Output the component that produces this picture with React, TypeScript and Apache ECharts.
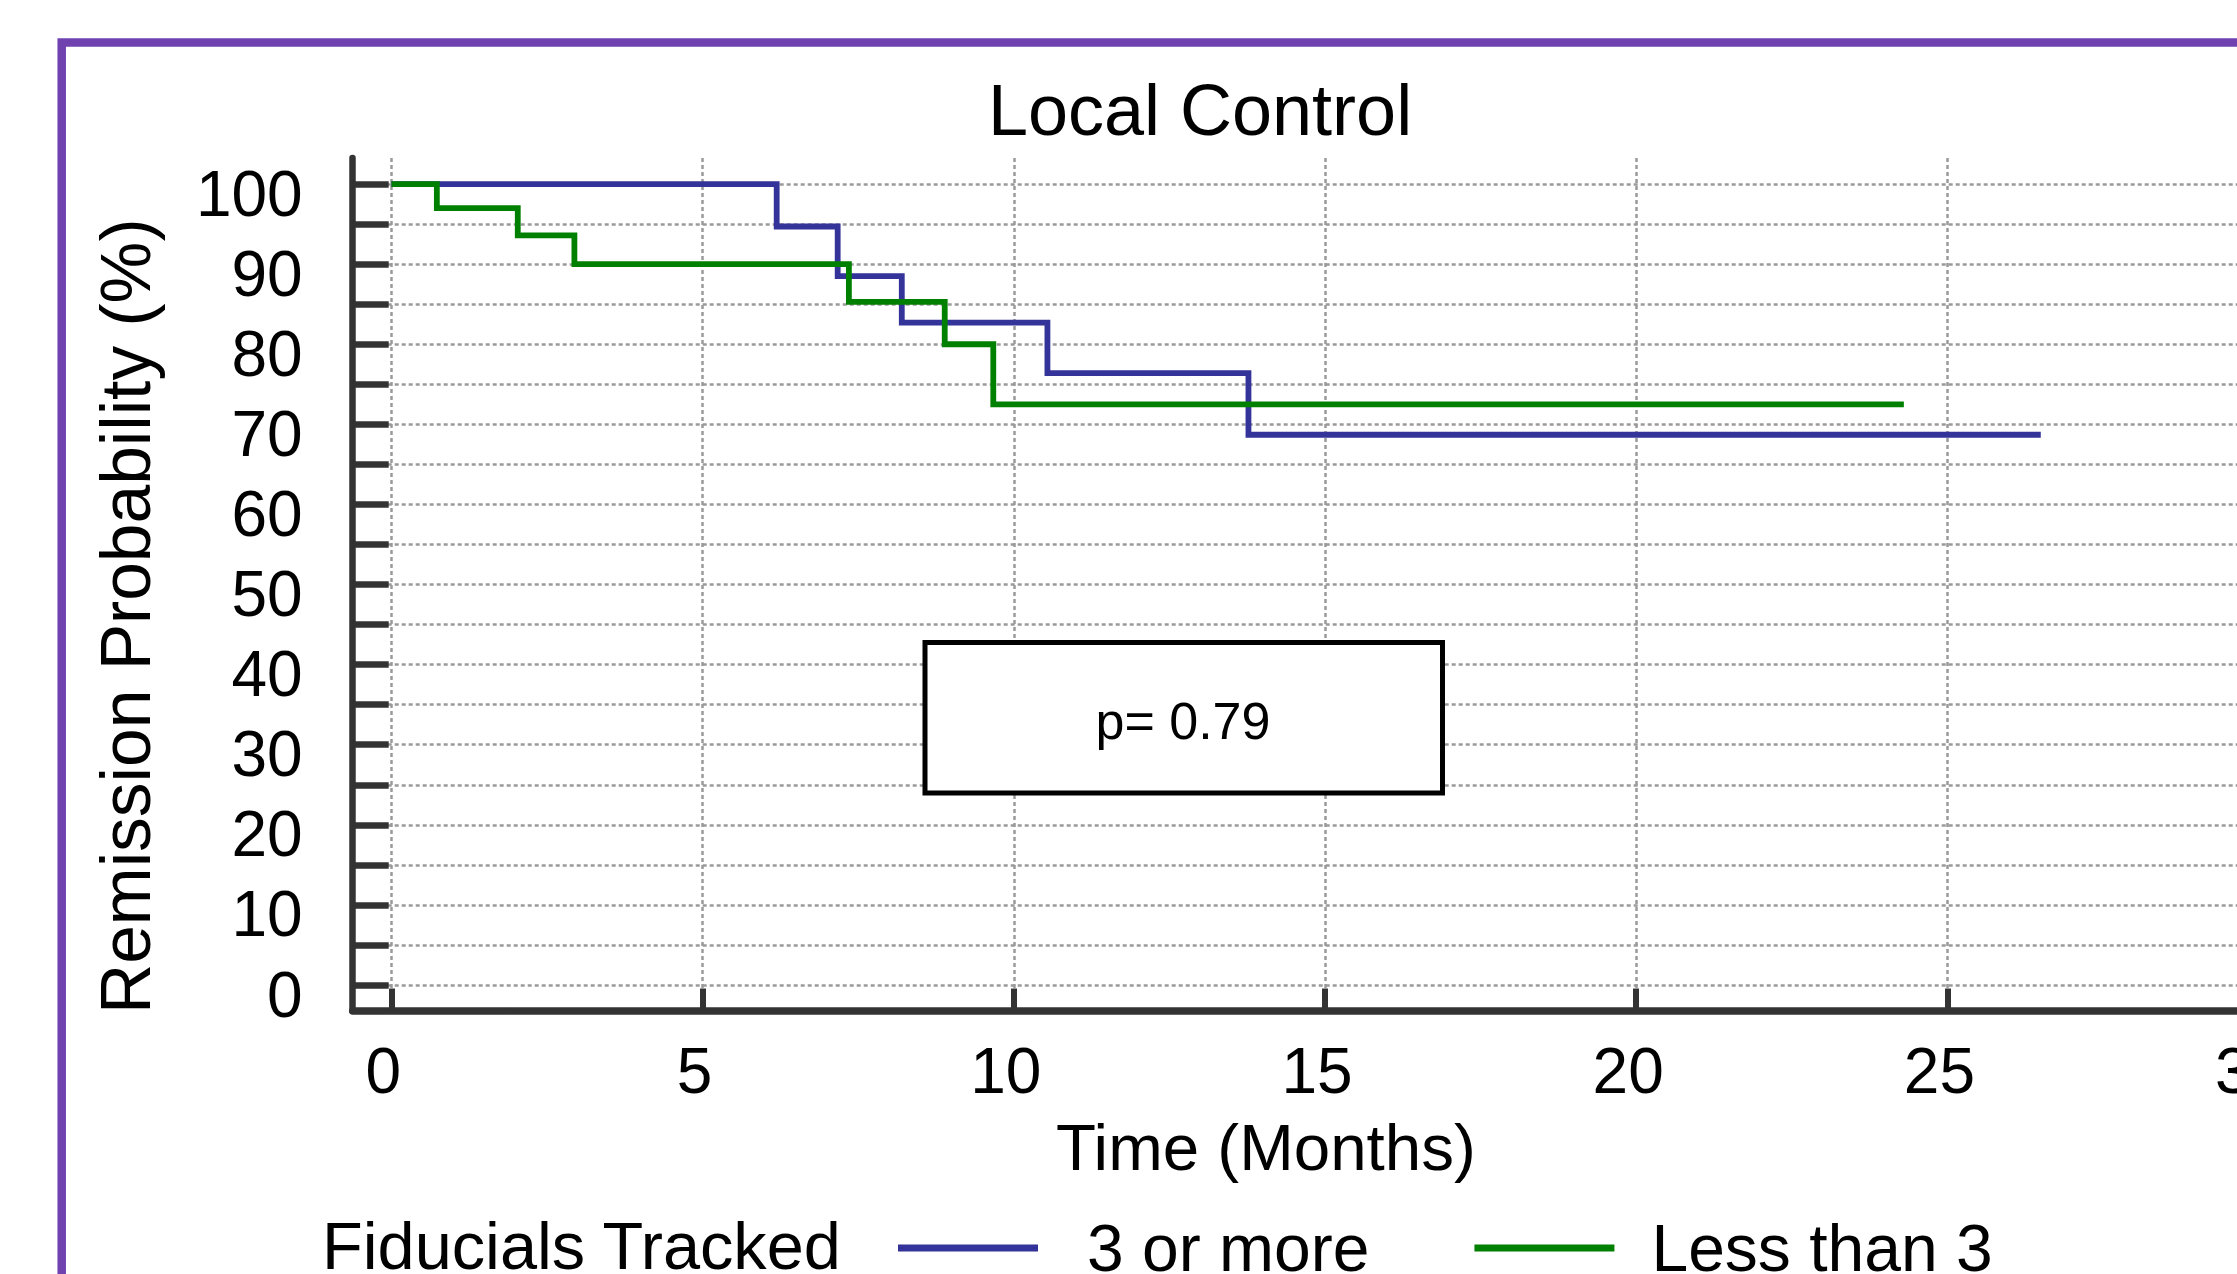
import React, { useEffect, useRef } from "react";
import * as echarts from "echarts";

// ---- data ----
const chartTitle = "Local Control";
const xAxisTitle = "Time (Months)";
const yAxisTitle = "Remission Probability (%)";
const legendTitle = "Fiducials Tracked";
const pValueText = "p= 0.79";
const seriesNames = ["3 or more", "Less than 3"];
const seriesColors = ["#333399", "#008000"];

const blueTimes = [0, 6.19, 7.17, 8.2, 10.54, 13.77, 26.5];
const blueSurvival = [100, 94.7, 88.5, 82.7, 76.4, 68.7, 68.7];
const greenTimes = [0, 0.73, 2.03, 2.94, 7.35, 8.89, 9.67, 24.3];
const greenSurvival = [100, 97.0, 93.6, 90.0, 85.3, 80.0, 72.5, 72.5];

const xTickValues = [0, 5, 10, 15, 20, 25, 30];
const yTickValues = [0, 5, 10, 15, 20, 25, 30, 35, 40, 45, 50, 55, 60, 65, 70, 75, 80, 85, 90, 95, 100];
const yLabelValues = [0, 10, 20, 30, 40, 50, 60, 70, 80, 90, 100];

// ---- layout ----
const FONT = "'Liberation Sans', Arial, Helvetica, sans-serif";
const CHART_W = 2400;
const CHART_H = 1400;
const X_MIN = -0.622;
const X_MAX = 32;
const Y_MIN = -3.18;
const Y_MAX = 103.25;

export default function App() {
  const ref = useRef<HTMLDivElement>(null);

  useEffect(() => {
    if (!ref.current) return;
    const chart = echarts.init(ref.current, undefined, { renderer: "svg" });

    const pairs = (t: number[], v: number[]) => t.map((x, i) => [x, v[i]]);

    const option: any = {
      animation: false,
      backgroundColor: "#ffffff",
      title: {
        text: chartTitle,
        left: "center",
        top: 74,
        padding: 0,
        textStyle: {
          fontFamily: FONT,
          fontSize: 72,
          lineHeight: 72,
          fontWeight: "normal",
          color: "#000000",
        },
      },
      grid: {
        left: 352.7,
        top: 158,
        width: 2030.4,
        height: 852.5,
        containLabel: false,
        outerBoundsMode: "none",
      },
      legend: {
        data: [
          { name: seriesNames[0], textStyle: { padding: [0, 0, 0, 44] } },
          { name: seriesNames[1], textStyle: { padding: [0, 0, 0, 32] } },
        ],
        left: 898,
        top: 1215,
        orient: "horizontal",
        padding: 0,
        itemWidth: 140,
        itemHeight: 7,
        itemGap: 105,
        icon: "rect",
        selectedMode: false,
        textStyle: { fontFamily: FONT, fontSize: 66, lineHeight: 66, color: "#000000" },
      },
      xAxis: {
        type: "value",
        min: X_MIN,
        max: X_MAX,
        name: xAxisTitle,
        nameLocation: "middle",
        nameGap: 104.5,
        nameMoveOverlap: false,
        nameTextStyle: {
          fontFamily: FONT,
          fontSize: 65.5,
          lineHeight: 65.5,
          color: "#000000",
          padding: [0, 204, 0, 0],
        },
        axisLine: { show: true, onZero: false, lineStyle: { color: "#333333", width: 7.5 } },
        axisTick: {
          show: true,
          inside: true,
          length: 22,
          customValues: xTickValues,
          lineStyle: { color: "#333333", width: 6 },
        },
        axisLabel: {
          show: true,
          customValues: xTickValues,
          showMinLabel: true,
          showMaxLabel: true,
          margin: 28,
          fontFamily: FONT,
          fontSize: 64,
          lineHeight: 64,
          color: "#000000",
          padding: [0, 16, 0, 0],
        },
        splitLine: { show: true, lineStyle: { color: "#9a9a9a", width: 2.5, type: [4, 3] } },
        minorTick: { show: false },
      },
      yAxis: {
        type: "value",
        min: Y_MIN,
        max: Y_MAX,
        name: yAxisTitle,
        nameLocation: "middle",
        nameRotate: 90,
        nameGap: 192,
        nameMoveOverlap: false,
        nameTextStyle: {
          fontFamily: FONT,
          fontSize: 69.5,
          lineHeight: 69.5,
          color: "#000000",
          padding: [0, 64, 0, 0],
        },
        axisLine: { show: true, onZero: false, lineStyle: { color: "#333333", width: 6.5 } },
        axisTick: {
          show: true,
          inside: true,
          length: 36,
          customValues: yTickValues,
          lineStyle: { color: "#333333", width: 6.5 },
        },
        axisLabel: {
          show: true,
          customValues: yLabelValues,
          showMinLabel: true,
          showMaxLabel: true,
          hideOverlap: false,
          margin: 50,
          fontFamily: FONT,
          fontSize: 64,
          lineHeight: 19,
          verticalAlign: "top",
          color: "#000000",
        },
        splitLine: { show: true, lineStyle: { color: "#9a9a9a", width: 2.5, type: [4, 3] } },
        minorTick: { show: false },
      },
      series: [
        {
          name: seriesNames[0],
          type: "line",
          step: "end",
          data: pairs(blueTimes, blueSurvival),
          showSymbol: false,
          symbol: "none",
          color: seriesColors[0],
          lineStyle: { color: seriesColors[0], width: 5.8, join: "miter" },
          itemStyle: { color: seriesColors[0] },
          z: 3,
        },
        {
          name: seriesNames[1],
          type: "line",
          step: "end",
          data: pairs(greenTimes, greenSurvival),
          showSymbol: false,
          symbol: "none",
          color: seriesColors[1],
          lineStyle: { color: seriesColors[1], width: 5.8, join: "miter" },
          itemStyle: { color: seriesColors[1] },
          z: 4,
        },
      ],
      graphic: {
        elements: [
          {
            type: "rect",
            silent: true,
            z: 100,
            shape: { x: 61.7, y: 42.5, width: 3000, height: 3000 },
            style: { fill: "none", stroke: "#7042b0", lineWidth: 8.5 },
          },
          {
            type: "rect",
            silent: true,
            z: 50,
            shape: { x: 925, y: 642.5, width: 517.5, height: 150.5 },
            style: { fill: "#ffffff", stroke: "#000000", lineWidth: 5 },
          },
          {
            type: "text",
            silent: true,
            z: 51,
            style: {
              text: pValueText,
              x: 1183,
              y: 720.5,
              fill: "#000000",
              font: `52px ${FONT}`,
              align: "center",
              verticalAlign: "middle",
              textAlign: "center",
              textVerticalAlign: "middle",
            },
          },
          {
            type: "text",
            silent: true,
            z: 51,
            style: {
              text: legendTitle,
              x: 322,
              y: 1246,
              fill: "#000000",
              font: `66.7px ${FONT}`,
              align: "left",
              verticalAlign: "middle",
              textAlign: "left",
              textVerticalAlign: "middle",
            },
          },
        ],
      },
    };

    chart.setOption(option);
    return () => {
      chart.dispose();
    };
  }, []);

  return (
    <div
      style={{
        position: "fixed",
        left: 0,
        top: 0,
        width: 2237,
        height: 1274,
        overflow: "hidden",
        background: "#ffffff",
      }}
    >
      <div ref={ref} style={{ width: CHART_W, height: CHART_H }} />
    </div>
  );
}
